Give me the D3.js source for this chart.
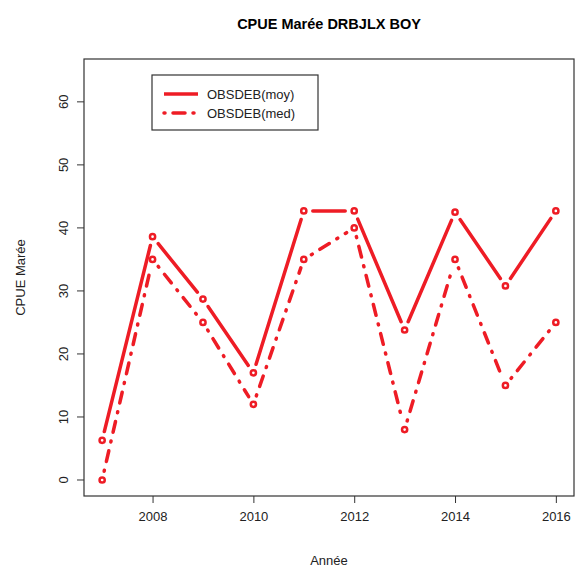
<!DOCTYPE html>
<html>
<head>
<meta charset="utf-8">
<title>CPUE Marée</title>
<script src="https://d3js.org/d3.v7.min.js"></script>
<style>
body { margin: 0; background: white; font-family: "Liberation Sans", Arial, sans-serif; }
text { font-family: "Liberation Sans", Arial, sans-serif; }
</style>
</head>
<body>
<script>
// data
var years = [2007, 2008, 2009, 2010, 2011, 2012, 2013, 2014, 2015, 2016];
var moy = [6.3, 38.6, 28.7, 17.0, 42.7, 42.7, 23.8, 42.5, 30.8, 42.7];
var med = [0, 35, 25, 12, 35, 40, 8, 35, 15, 25];
var xTicks = [2008, 2010, 2012, 2014, 2016];
var yTicks = [0, 10, 20, 30, 40, 50, 60];
var seriesNames = ["OBSDEB(moy)", "OBSDEB(med)"];

var width = 575, height = 568;
var red = "#ee1c25";
var box = {left: 84, right: 574, top: 59, bottom: 496};

var svg = d3.select("body").append("svg")
  .attr("width", width).attr("height", height);

var x = d3.scaleLinear().domain([2006.64, 2016.36]).range([box.left, box.right]);
var y = d3.scaleLinear().domain([-2.54, 66.8]).range([box.bottom, box.top]);

// title
svg.append("text")
  .attr("x", (box.left + box.right) / 2).attr("y", 29)
  .attr("text-anchor", "middle")
  .style("font-weight", "bold").style("font-size", "14.5px")
  .text("CPUE Marée DRBJLX BOY");

// axes
var xAxis = svg.append("g")
  .attr("transform", "translate(0," + box.bottom + ")")
  .call(d3.axisBottom(x).tickValues(xTicks).tickFormat(d3.format("d")).tickSize(7).tickPadding(9));
xAxis.select(".domain").remove();
xAxis.selectAll("text").style("font-size", "13px").attr("fill", "#222");
xAxis.selectAll("line").attr("stroke", "#333");

var yAxis = svg.append("g")
  .attr("transform", "translate(" + box.left + ",0)")
  .call(d3.axisLeft(y).tickValues(yTicks).tickSize(7).tickPadding(0));
yAxis.select(".domain").remove();
yAxis.selectAll("line").attr("stroke", "#333");
yAxis.selectAll("text")
  .attr("x", 0).attr("dy", 0)
  .attr("text-anchor", "middle")
  .attr("transform", function(d) { return "translate(-16," + y(d) + ") rotate(-90)"; })
  .attr("y", 0)
  .style("font-size", "13px").attr("fill", "#222");
yAxis.selectAll(".tick").attr("transform", null);
yAxis.selectAll(".tick line").attr("transform", function(d) { return "translate(0," + y(d) + ")"; });

// plot box
svg.append("rect")
  .attr("x", box.left).attr("y", box.top)
  .attr("width", box.right - box.left).attr("height", box.bottom - box.top)
  .attr("fill", "none").attr("stroke", "#333").attr("stroke-width", 1.2);

// axis titles
svg.append("text")
  .attr("x", (box.left + box.right) / 2).attr("y", 565)
  .attr("text-anchor", "middle").style("font-size", "13px").attr("fill", "#222")
  .text("Année");
svg.append("text")
  .attr("transform", "translate(25," + ((box.top + box.bottom) / 2) + ") rotate(-90)")
  .attr("text-anchor", "middle").style("font-size", "13px").attr("fill", "#222")
  .text("CPUE Marée");

// type="b" series: segments with gaps, then open points
var gap = 9;
function drawSeries(vals, dash) {
  var pts = years.map(function(yr, i) { return [x(yr), y(vals[i])]; });
  var g = svg.append("g");
  for (var i = 0; i < pts.length - 1; i++) {
    var a = pts[i], b = pts[i + 1];
    var dx = b[0] - a[0], dy = b[1] - a[1];
    var len = Math.sqrt(dx * dx + dy * dy);
    if (len <= 2 * gap) continue;
    var ux = dx / len, uy = dy / len;
    g.append("line")
      .attr("x1", a[0] + ux * gap).attr("y1", a[1] + uy * gap)
      .attr("x2", b[0] - ux * gap).attr("y2", b[1] - uy * gap)
      .attr("stroke", red).attr("stroke-width", 3.5)
      .attr("stroke-linecap", "round")
      .attr("stroke-dasharray", dash);
  }
  g.selectAll("circle").data(pts).enter().append("circle")
    .attr("cx", function(d) { return d[0]; })
    .attr("cy", function(d) { return d[1]; })
    .attr("r", 2.6)
    .attr("fill", "white").attr("stroke", red).attr("stroke-width", 2.5);
}
drawSeries(moy, null);
drawSeries(med, "1 9 11 9");

// legend
var leg = svg.append("g");
leg.append("rect")
  .attr("x", 152).attr("y", 75).attr("width", 166).attr("height", 55)
  .attr("fill", "white").attr("stroke", "#333").attr("stroke-width", 1.2);
var dashes = [null, "1 8 12 8"];
seriesNames.forEach(function(name, i) {
  var ly = 94 + i * 19;
  leg.append("line")
    .attr("x1", 164).attr("x2", 198).attr("y1", ly).attr("y2", ly)
    .attr("stroke", red).attr("stroke-width", 3.5)
    .attr("stroke-linecap", i ? "round" : "butt")
    .attr("stroke-dasharray", dashes[i]);
  leg.append("text")
    .attr("x", 207).attr("y", ly + 5)
    .style("font-size", "13px").attr("fill", "#222")
    .text(name);
});
</script>
</body>
</html>
